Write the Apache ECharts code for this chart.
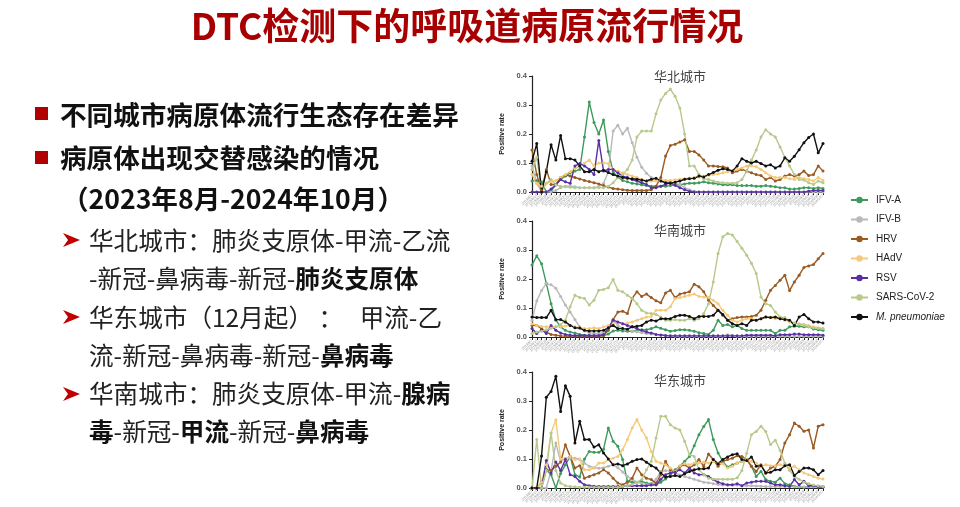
<!DOCTYPE html>
<html><head><meta charset="utf-8">
<script src="https://cdn.jsdelivr.net/npm/echarts@6/dist/echarts.min.js"></script>
<style>html,body{margin:0;padding:0;background:#fff}#c{width:960px;height:507px}</style>
</head><body><div id="c"></div>
<script>
const weeks = ['2023/8/7','2023/8/14','2023/8/21','2023/8/28','2023/9/4','2023/9/11','2023/9/18','2023/9/25','2023/10/2','2023/10/9','2023/10/16','2023/10/23','2023/10/30','2023/11/6','2023/11/13','2023/11/20','2023/11/27','2023/12/4','2023/12/11','2023/12/18','2023/12/25','2024/1/1','2024/1/8','2024/1/15','2024/1/22','2024/1/29','2024/2/5','2024/2/12','2024/2/19','2024/2/26','2024/3/4','2024/3/11','2024/3/18','2024/3/25','2024/4/1','2024/4/8','2024/4/15','2024/4/22','2024/4/29','2024/5/6','2024/5/13','2024/5/20','2024/5/27','2024/6/3','2024/6/10','2024/6/17','2024/6/24','2024/7/1','2024/7/8','2024/7/15','2024/7/22','2024/7/29','2024/8/5','2024/8/12','2024/8/19','2024/8/26','2024/9/2','2024/9/9','2024/9/16','2024/9/23','2024/9/30','2024/10/7'];
const seriesNames = ['IFV-A','IFV-B','HRV','HAdV','RSV','SARS-CoV-2','M. pneumoniae'];
const cityTitles = ['华北城市','华南城市','华东城市'];
const yTicks = [0, 0.1, 0.2, 0.3, 0.4];

// 华北城市
const northIFVA = [0.038,0.04,0.035,0.0,0.003,0.025,0.043,0.055,0.066,0.072,0.078,0.19,0.31,0.24,0.2,0.248,0.14,0.07,0.05,0.04,0.035,0.03,0.028,0.025,0.022,0.02,0.02,0.02,0.02,0.022,0.025,0.025,0.028,0.03,0.03,0.032,0.035,0.032,0.03,0.028,0.025,0.025,0.025,0.022,0.022,0.022,0.022,0.02,0.02,0.022,0.02,0.018,0.015,0.015,0.01,0.01,0.012,0.015,0.015,0.012,0.015,0.012];
const northIFVB = [0.09,0.03,0.0,0.0,0.0,0.005,0.015,0.02,0.02,0.018,0.015,0.015,0.015,0.015,0.018,0.03,0.07,0.21,0.23,0.2,0.22,0.17,0.12,0.085,0.065,0.05,0.045,0.04,0.04,0.035,0.03,0.025,0.015,0.008,0.003,0,0,0,0,0,0,0,0,0,0,0,0,0,0,0,0,0,0,0,0,0,0,0,0,0,0,0];
const northHRV = [0.145,0.06,0.005,0.078,0.026,0.026,0.05,0.058,0.055,0.05,0.045,0.04,0.036,0.032,0.028,0.022,0.017,0.012,0.01,0.008,0.006,0.005,0.005,0.005,0.005,0.008,0.02,0.05,0.124,0.16,0.165,0.172,0.18,0.14,0.14,0.128,0.11,0.09,0.09,0.088,0.087,0.083,0.066,0.072,0.078,0.072,0.066,0.06,0.057,0.043,0.05,0.038,0.043,0.055,0.06,0.055,0.06,0.072,0.057,0.06,0.09,0.072];
const northHAdV = [0.06,0.03,0.02,0.03,0.035,0.04,0.05,0.06,0.07,0.08,0.09,0.1,0.11,0.09,0.1,0.1,0.098,0.078,0.072,0.066,0.06,0.055,0.05,0.043,0.038,0.038,0.038,0.04,0.04,0.04,0.042,0.044,0.046,0.048,0.05,0.052,0.055,0.058,0.06,0.063,0.066,0.07,0.072,0.078,0.083,0.09,0.09,0.087,0.078,0.066,0.055,0.05,0.05,0.05,0.046,0.043,0.05,0.046,0.043,0.038,0.05,0.04];
const northRSV = [0,0,0,0,0.01,0.025,0.043,0.035,0.03,0.09,0.098,0.09,0.078,0.06,0.178,0.072,0.078,0.078,0.066,0.055,0.05,0.043,0.038,0.032,0.026,0.015,0.015,0.02,0.026,0.032,0.023,0.015,0.008,0.003,0,0,0,0,0,0,0,0,0,0,0,0,0,0,0,0,0,0,0,0,0,0,0,0,0.003,0.005,0.005,0.005];
const northSARS = [0.078,0.12,0.0,0.03,0.043,0.025,0.02,0.018,0.016,0.015,0.015,0.015,0.015,0.015,0.015,0.015,0.02,0.032,0.05,0.06,0.078,0.11,0.19,0.21,0.21,0.21,0.27,0.317,0.34,0.355,0.33,0.29,0.2,0.09,0.09,0.06,0.046,0.043,0.038,0.034,0.032,0.03,0.03,0.032,0.043,0.072,0.11,0.145,0.19,0.215,0.2,0.19,0.155,0.12,0.09,0.06,0.043,0.041,0.032,0.026,0.038,0.032];
const northMP = [0.106,0.167,0.0,0.07,0.163,0.11,0.195,0.115,0.115,0.11,0.09,0.07,0.07,0.078,0.07,0.075,0.067,0.06,0.055,0.05,0.047,0.046,0.044,0.041,0.038,0.044,0.047,0.038,0.032,0.03,0.034,0.038,0.044,0.046,0.047,0.055,0.052,0.06,0.067,0.075,0.08,0.078,0.072,0.09,0.115,0.106,0.1,0.106,0.098,0.09,0.094,0.083,0.09,0.118,0.106,0.123,0.146,0.17,0.188,0.2,0.135,0.167];

// 华南城市
const southIFVA = [0.248,0.28,0.253,0.185,0.115,0.058,0.035,0.023,0.017,0.014,0.009,0.006,0.005,0.004,0.004,0.005,0.01,0.021,0.023,0.021,0.02,0.02,0.022,0.025,0.025,0.029,0.035,0.03,0.025,0.02,0.022,0.025,0.025,0.023,0.02,0.015,0.012,0.009,0.023,0.058,0.04,0.043,0.035,0.04,0.029,0.023,0.023,0.023,0.023,0.023,0.023,0.012,0.023,0.023,0.035,0.037,0.037,0.035,0.035,0.028,0.025,0.023];
const southIFVB = [0.058,0.125,0.16,0.185,0.18,0.168,0.14,0.11,0.086,0.06,0.035,0.021,0.015,0.012,0.012,0.015,0.03,0.058,0.04,0.03,0.025,0.02,0.018,0.015,0.012,0.01,0.008,0.006,0.005,0.004,0.003,0.003,0.003,0.003,0.003,0.003,0.003,0.003,0.003,0.003,0.003,0.008,0.005,0.003,0.003,0.003,0.003,0.003,0.003,0.003,0.003,0.003,0.003,0.003,0.003,0.003,0.003,0.003,0.003,0.003,0.003,0.003];
const southHRV = [0.04,0.04,0.029,0.017,0.009,0.006,0.004,0.003,0.003,0.003,0.003,0.003,0.003,0.003,0.003,0.005,0.023,0.06,0.086,0.089,0.081,0.133,0.156,0.14,0.148,0.136,0.125,0.118,0.152,0.161,0.136,0.148,0.152,0.156,0.182,0.173,0.156,0.127,0.109,0.092,0.075,0.058,0.063,0.067,0.069,0.069,0.071,0.075,0.092,0.127,0.161,0.178,0.196,0.213,0.16,0.19,0.213,0.24,0.245,0.25,0.27,0.288];
const southHAdV = [0.046,0.04,0.036,0.035,0.035,0.035,0.036,0.038,0.04,0.035,0.032,0.029,0.029,0.032,0.029,0.035,0.04,0.046,0.048,0.046,0.048,0.052,0.058,0.063,0.069,0.071,0.092,0.092,0.092,0.104,0.133,0.136,0.14,0.144,0.148,0.14,0.138,0.136,0.127,0.115,0.092,0.075,0.058,0.052,0.058,0.063,0.063,0.058,0.063,0.071,0.067,0.063,0.067,0.058,0.052,0.048,0.046,0.044,0.04,0.035,0.032,0.029];
const southRSV = [0.029,0.012,0.025,0.012,0.04,0.023,0.014,0.009,0.006,0.005,0.005,0.005,0.005,0.005,0.005,0.009,0.03,0.058,0.052,0.046,0.04,0.035,0.029,0.023,0.017,0.014,0.009,0.007,0.005,0.004,0.004,0.004,0.004,0.004,0.004,0.004,0.004,0.004,0.004,0.004,0.004,0.004,0.004,0.004,0.004,0.006,0.006,0.006,0.006,0.006,0.006,0.004,0.008,0.008,0.008,0.01,0.01,0.008,0.008,0.008,0.008,0.006];
const southSARS = [0.012,0.017,0.02,0.025,0.03,0.035,0.042,0.058,0.104,0.144,0.136,0.133,0.11,0.127,0.161,0.164,0.17,0.198,0.161,0.156,0.144,0.133,0.115,0.092,0.083,0.081,0.078,0.069,0.058,0.058,0.06,0.058,0.058,0.063,0.058,0.063,0.081,0.115,0.19,0.288,0.346,0.357,0.352,0.329,0.306,0.282,0.254,0.219,0.138,0.115,0.109,0.086,0.069,0.067,0.055,0.048,0.044,0.04,0.035,0.032,0.03,0.029];
const southMP = [0.069,0.067,0.067,0.067,0.092,0.06,0.06,0.052,0.04,0.032,0.031,0.023,0.021,0.021,0.021,0.023,0.032,0.04,0.029,0.029,0.027,0.035,0.037,0.04,0.052,0.058,0.055,0.063,0.063,0.063,0.071,0.075,0.075,0.071,0.063,0.071,0.071,0.071,0.075,0.092,0.078,0.058,0.046,0.04,0.046,0.04,0.058,0.058,0.063,0.069,0.067,0.069,0.063,0.06,0.058,0.04,0.069,0.078,0.063,0.052,0.052,0.048];

// 华东城市
const eastIFVA = [0,0,0,0.063,0.046,0,0.05,0.08,0.109,0.046,0.038,0.1,0.126,0.123,0.123,0.134,0.207,0.161,0.144,0.098,0.023,0.02,0.02,0.023,0.017,0.015,0.011,0.02,0.031,0.046,0.063,0.075,0.092,0.109,0.146,0.184,0.212,0.236,0.167,0.121,0.092,0.072,0.08,0.086,0.092,0.098,0.075,0.04,0.057,0.029,0.023,0.02,0.034,0.015,0.011,0.006,0.004,0.003,0.005,0.005,0.004,0.005];
const eastIFVB = [0,0,0,0,0.06,0.155,0.09,0.103,0.103,0.103,0.1,0.086,0.075,0.07,0.068,0.07,0.075,0.08,0.07,0.055,0.04,0.03,0.02,0.015,0.012,0.012,0.03,0.057,0.06,0.058,0.052,0.045,0.04,0.035,0.03,0.025,0.02,0.018,0.015,0.012,0.01,0.01,0.01,0.01,0.008,0.008,0.008,0.007,0.006,0.005,0.005,0.005,0.005,0.005,0.005,0.004,0.004,0.004,0.004,0.004,0.004,0.004];
const eastHRV = [0,0,0.02,0.063,0.06,0.075,0.09,0.149,0.109,0.069,0.077,0.034,0.04,0.046,0.052,0.063,0.052,0.034,0.017,0.011,0.02,0.034,0.069,0.046,0.034,0.029,0.017,0.046,0.092,0.063,0.052,0.075,0.08,0.069,0.08,0.098,0.075,0.117,0.098,0.075,0.092,0.098,0.103,0.111,0.109,0.098,0.075,0.057,0.08,0.052,0.069,0.075,0.098,0.155,0.184,0.224,0.213,0.196,0.2,0.138,0.213,0.218];
const eastHAdV = [0,0,0.02,0.08,0.19,0.235,0.1,0.098,0.109,0.098,0.098,0.063,0.063,0.069,0.086,0.086,0.098,0.103,0.109,0.132,0.167,0.207,0.236,0.2,0.172,0.126,0.092,0.086,0.08,0.069,0.057,0.077,0.084,0.08,0.086,0.086,0.089,0.086,0.092,0.086,0.084,0.069,0.075,0.086,0.092,0.098,0.092,0.086,0.075,0.08,0.077,0.077,0.08,0.077,0.069,0.075,0.063,0.052,0.046,0.04,0.034,0.031];
const eastRSV = [0,0,0,0.095,0.052,0.09,0.06,0.098,0.046,0.04,0.023,0.011,0.008,0.006,0.005,0.005,0.005,0.005,0.005,0.005,0.008,0.008,0.008,0.008,0.008,0.01,0.011,0.03,0.046,0.052,0.054,0.063,0.052,0.069,0.052,0.046,0.046,0.04,0.029,0.02,0.015,0.011,0.011,0.015,0.008,0.017,0.02,0.023,0.023,0.023,0.017,0.011,0.011,0.008,0.006,0.029,0.011,0.023,0.008,0.008,0.005,0.003];
const eastSARS = [0,0.167,0,0.06,0.19,0.06,0.017,0.008,0.005,0.004,0.003,0.003,0.003,0.003,0.003,0.003,0.003,0.003,0.003,0.005,0.008,0.012,0.02,0.029,0.063,0.092,0.172,0.247,0.247,0.218,0.207,0.2,0.161,0.115,0.109,0.063,0.046,0.034,0.03,0.03,0.03,0.03,0.03,0.035,0.06,0.12,0.184,0.195,0.213,0.195,0.15,0.165,0.13,0.085,0.06,0.04,0.03,0.02,0.015,0.01,0.008,0.005];
const eastMP = [0,0,0.11,0.313,0.333,0.385,0.264,0.353,0.316,0.155,0.23,0.167,0.167,0.141,0.149,0.121,0.1,0.08,0.083,0.077,0.083,0.092,0.098,0.1,0.089,0.077,0.069,0.052,0.038,0.04,0.043,0.04,0.049,0.057,0.063,0.066,0.066,0.069,0.098,0.084,0.098,0.107,0.115,0.118,0.098,0.095,0.107,0.075,0.077,0.052,0.054,0.063,0.063,0.077,0.08,0.043,0.057,0.069,0.069,0.063,0.046,0.06];

const cityData = [
  [northIFVA, northIFVB, northHRV, northHAdV, northRSV, northSARS, northMP],
  [southIFVA, southIFVB, southHRV, southHAdV, southRSV, southSARS, southMP],
  [eastIFVA, eastIFVB, eastHRV, eastHAdV, eastRSV, eastSARS, eastMP]
];

const colors = ['#3e9a5c','#b9b9b9','#9a5a22','#f6c978','#5a2fa6','#b8c98c','#111111'];
const gridTops = [76, 221, 372];
const gridH = 116;
const titleTops = [65, 219, 369];

const chart = echarts.init(document.getElementById('c'));
const grids = [], xAxes = [], yAxes = [], series = [], titles = [];
gridTops.forEach((t, ci) => {
  grids.push({left: 532, width: 291, top: t, height: gridH});
  xAxes.push({
    type: 'category', gridIndex: ci, data: weeks, boundaryGap: false,
    axisLine: {lineStyle: {color: '#222', width: 1.2}},
    axisTick: {show: true, interval: 0, length: 3, lineStyle: {color: '#222', width: 1}},
    axisLabel: {interval: 0, rotate: 45, fontSize: 3.5, color: '#999', margin: 3}
  });
  yAxes.push({
    type: 'value', gridIndex: ci, min: yTicks[0], max: yTicks[yTicks.length - 1], interval: 0.1,
    name: 'Positive rate', nameLocation: 'middle', nameGap: 26,
    nameTextStyle: {fontSize: 7, fontWeight: 'bold', color: '#222', fontFamily: 'Liberation Sans'},
    axisLine: {show: true, lineStyle: {color: '#222', width: 1.2}},
    axisTick: {show: true, length: 3, lineStyle: {color: '#222'}},
    axisLabel: {fontSize: 7.5, fontWeight: 'bold', color: '#555', margin: 5, fontFamily: 'Liberation Sans',
      formatter: v => v.toFixed(1)},
    splitLine: {show: false}
  });
  titles.push({text: cityTitles[ci], left: 649, top: titleTops[ci],
    textStyle: {fontSize: 13, fontWeight: 'normal', color: '#444', fontFamily: 'Noto Sans CJK SC'}});
  cityData[ci].forEach((arr, si) => {
    series.push({
      type: 'line', name: seriesNames[si], xAxisIndex: ci, yAxisIndex: ci, data: arr,
      symbol: 'circle', symbolSize: 3, showSymbol: true,
      lineStyle: {width: 1.4, color: colors[si]}, itemStyle: {color: colors[si]},
      emphasis: {disabled: true}, animation: false
    });
  });
});

const bodyFont = '"Noto Sans CJK SC", sans-serif';
function txt(x, y, text, size, weight, fill, rich) {
  return {type: 'text', x: x, y: y, style: {
    text: text, fill: fill, fontSize: size, fontWeight: weight, fontFamily: bodyFont,
    verticalAlign: 'middle', rich: rich || {}
  }};
}
const subSize = 24.6;
const boldRich = {b: {fontSize: subSize, fontWeight: 'bold', fontFamily: bodyFont, fill: '#111'}};
function arrow(y) {
  return {type: 'polygon', shape: {points: [[63, y - 7], [80, y], [63, y + 7], [68, y]]},
    style: {fill: '#c00000'}};
}
const graphics = [
  {type: 'text', x: 467, y: 26, style: {text: 'DTC检测下的呼吸道病原流行情况', fill: '#a80000',
    fontSize: 37, fontWeight: 'bold', fontFamily: bodyFont, align: 'center', verticalAlign: 'middle'}},
  {type: 'rect', shape: {x: 35, y: 107, width: 13, height: 13}, style: {fill: '#b00000'}},
  {type: 'rect', shape: {x: 35, y: 151, width: 13, height: 13}, style: {fill: '#b00000'}},
  txt(60, 115, '不同城市病原体流行生态存在差异', 26.6, 'bold', '#111'),
  txt(60, 158, '病原体出现交替感染的情况', 26.6, 'bold', '#111'),
  txt(62, 199, '（2023年8月-2024年10月）', 26.6, 'bold', '#111'),
  arrow(240), arrow(317), arrow(394),
  txt(89, 241, '华北城市：肺炎支原体-甲流-乙流', subSize, 'normal', '#222'),
  txt(89, 279, '-新冠-鼻病毒-新冠-{b|肺炎支原体}', subSize, 'normal', '#222', boldRich),
  txt(89, 318, '华东城市（12月起） ：   甲流-乙', subSize, 'normal', '#222'),
  txt(89, 356, '流-新冠-鼻病毒-新冠-{b|鼻病毒}', subSize, 'normal', '#222', boldRich),
  txt(89, 394, '华南城市：肺炎支原体-甲流-{b|腺病}', subSize, 'normal', '#222', boldRich),
  txt(89, 432, '{b|毒}-新冠-{b|甲流}-新冠-{b|鼻病毒}', subSize, 'normal', '#222', boldRich)
];

chart.setOption({
  animation: false,
  backgroundColor: '#fff',
  title: titles,
  grid: grids,
  xAxis: xAxes,
  yAxis: yAxes,
  legend: {
    data: seriesNames, orient: 'vertical', left: 845, top: 190,
    itemWidth: 17, itemHeight: 8, itemGap: 9.5,
    textStyle: {fontSize: 10, color: '#222', fontFamily: 'Liberation Sans', padding: [0, 0, 0, 3],
      rich: {i: {fontSize: 10, fontStyle: 'italic', fontFamily: 'Liberation Sans', color: '#222'}}},
    formatter: n => n === 'M. pneumoniae' ? '{i|' + n + '}' : n
  },
  series: series,
  graphic: graphics
});
</script></body></html>
